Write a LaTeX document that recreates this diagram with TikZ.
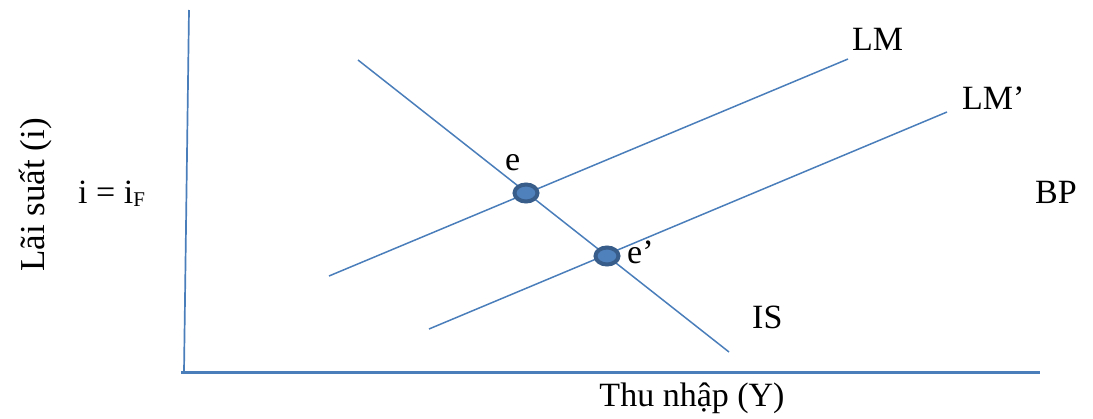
\documentclass[tikz,border=0pt]{standalone}
\usepackage{fontspec}
\setmainfont{Liberation Serif}
\definecolor{curve}{HTML}{4A7EBB}
\definecolor{dotfill}{HTML}{4F81BD}
\definecolor{dotrim}{HTML}{385D8A}
\begin{document}
\begin{tikzpicture}[x=1pt,y=-1pt,
  curveline/.style={draw=curve, line width=1.5pt},
  axisline/.style={draw=curve, line width=1.7pt},
  eqdot/.style={fill=dotfill, draw=dotrim, line width=4pt},
  lbl/.style={font=\fontsize{34}{40}\selectfont, inner sep=0pt, anchor=base west}]
\useasboundingbox (0,0) rectangle (1093,418);
% axes
\coordinate (ytop) at (189,10);
\coordinate (origin) at (184,372);
\coordinate (xstart) at (181,372);
\coordinate (xend) at (1040,372);
\draw[axisline] (ytop) -- (origin);
\draw[draw=curve, line width=3pt] (xstart) -- (xend);
% IS, LM and LM' curves
\coordinate (is1) at (358,60);
\coordinate (is2) at (729,352);
\coordinate (lm1) at (329,276);
\coordinate (lm2) at (848,59);
\coordinate (lmp1) at (429,329);
\coordinate (lmp2) at (947,112);
\draw[curveline] (is1) -- (is2);
\draw[curveline] (lm1) -- (lm2);
\draw[curveline] (lmp1) -- (lmp2);
% equilibrium points
\coordinate (e) at (526,193);
\coordinate (ep) at (607,256);
\foreach \p in {e,ep}
  \draw[eqdot] (\p) ellipse [x radius=11.5, y radius=8.5];
% labels
\node[lbl] (lmlab) at (852,50) {LM};
\node[lbl] (lmplab) at (962,109) {LM’};
\node[lbl] (islab) at (752,328) {IS};
\node[lbl] (elab) at (505,170) {e};
\node[lbl] (eplab) at (627,263) {e’};
\node[lbl] (bplab) at (1035,203) {BP};
\node[lbl] (iflab) at (78,203) {i = i\raisebox{-0.2ex}{\fontsize{21}{24}\selectfont F}};
\node[lbl, anchor=base] (xlab) at (692,406) {Thu nhập (Y)};
\node[font=\fontsize{35}{40}\selectfont, inner sep=0pt, rotate=90, anchor=base] (ylab) at (45,195) {Lãi suất (i)};
\end{tikzpicture}
\end{document}
